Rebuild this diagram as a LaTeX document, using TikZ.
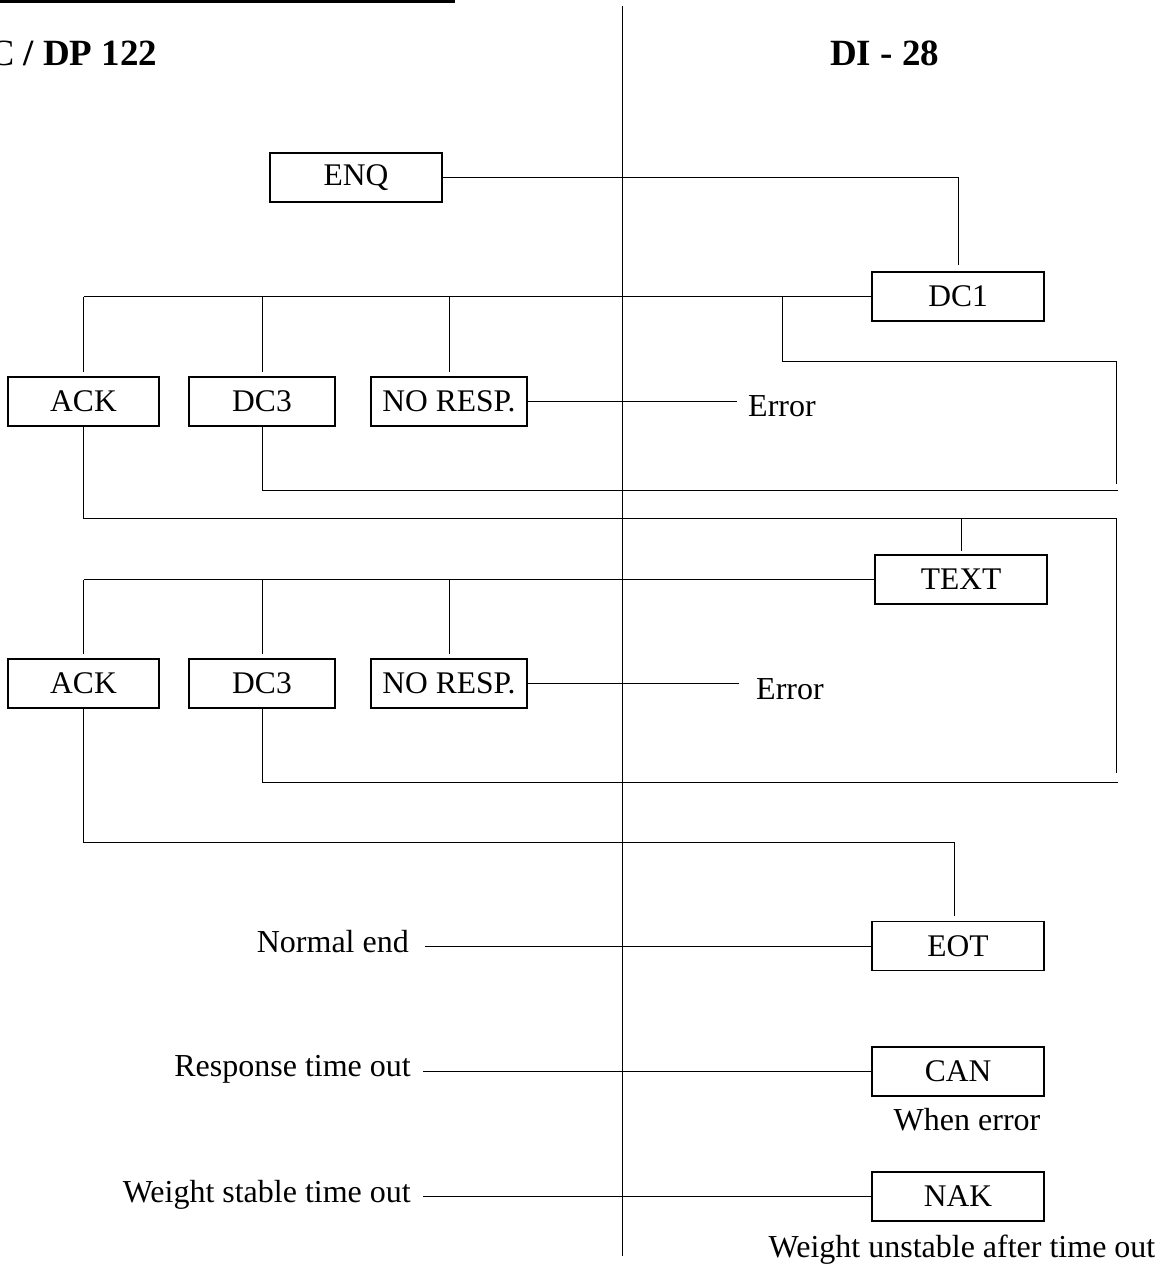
\documentclass[tikz,border=0pt]{standalone}
\usepackage{fontspec}
\setmainfont{Liberation Serif}
\newcommand\bxfont{\fontsize{31.5}{36}\selectfont}
\newcommand\lblfont{\fontsize{32}{37}\selectfont}
\newcommand\ttlfont{\fontsize{37}{42}\selectfont}
\begin{document}
\begin{tikzpicture}[x=1pt,y=-1pt,
  box/.style={draw, line width=1.7pt, minimum height=49pt, inner sep=0pt, font=\bxfont},
  conn/.style={line width=0.95pt},
  lbl/.style={inner sep=0pt, font=\lblfont}]
\useasboundingbox (0,0) rectangle (1163,1266);

% top underline fragment and titles
\draw[line width=3pt] (0,1.5) -- (455,1.5);
\node[anchor=base west, inner sep=0pt, font=\ttlfont] (tl) at (-10.5,65) {C\textbf{ / DP 122}};
\node[anchor=base west, inner sep=0pt, font=\ttlfont\bfseries] (tr) at (830,65) {DI - 28};

% centre line
\coordinate (ct) at (622,6);
\coordinate (cb) at (622,1256);
\draw[line width=1pt] (ct) -- (cb);

% boxes
\node[box, minimum width=172pt] (enq) at (356,177.5) {ENQ};
\node[box, minimum width=172pt] (dc1) at (958,296.5) {DC1};
\node[box, minimum width=151pt] (ack1) at (83.5,401.5) {ACK};
\node[box, minimum width=146pt] (dcA) at (262,401.5) {DC3};
\node[box, minimum width=156pt] (nr1) at (449,401.5) {NO RESP.};
\node[box, minimum width=172pt] (txt) at (961,579.5) {TEXT};
\node[box, minimum width=151pt] (ack2) at (83.5,683.5) {ACK};
\node[box, minimum width=146pt] (dcB) at (262,683.5) {DC3};
\node[box, minimum width=156pt] (nr2) at (449,683.5) {NO RESP.};
\node[box, minimum width=172pt] (eot) at (958,946) {EOT};
\node[box, minimum width=172pt] (can) at (958,1071.5) {CAN};
\node[box, minimum width=172pt] (nak) at (958,1196.5) {NAK};

% labels
\node[lbl, anchor=base west] (err1) at (748,416) {Error};
\node[lbl, anchor=base west] (err2) at (756,699) {Error};
\node[lbl, anchor=base east] (ne) at (409,952) {Normal end};
\node[lbl, anchor=base east] (rto) at (411,1076) {Response time out};
\node[lbl, anchor=base east] (wst) at (411,1202) {Weight stable time out};
\node[lbl, anchor=base] (we) at (967,1130) {When error};
\node[lbl, anchor=base] (wun) at (962,1257) {Weight unstable after time out};

% ENQ -> DC1
\draw[conn, shorten >=6pt] (enq.east) -| (dc1.north);

% DC1 bus
\draw[conn] (dc1.west) -- (dc1.west -| ack1.north);
\draw[conn, shorten >=4pt] (dc1.west -| ack1.north) -- (ack1.north);
\draw[conn, shorten >=4pt] (dc1.west -| dcA.north) -- (dcA.north);
\draw[conn, shorten >=4pt] (dc1.west -| nr1.north) -- (nr1.north);
\coordinate (j1) at (782,296.5);
\coordinate (j1b) at (782,361);
\coordinate (r1) at (1116,361);
\coordinate (r1b) at (1116,484);
\draw[conn] (j1) -- (j1b) -- (r1) -- (r1b);

% NO RESP -> Error
\draw[conn, shorten >=11pt] (nr1.east) -- (nr1.east -| err1.west);

% DC3 / ACK returns (first group)
\coordinate (rB) at (1118,490);
\draw[conn] (dcA.south) |- (rB);
\coordinate (rA) at (1116,518);
\coordinate (rAb) at (1116,773);
\draw[conn] (ack1.south) |- (rA) -- (rAb);
\draw[conn, shorten >=3pt] (txt.north |- rA) -- (txt.north);

% TEXT bus
\draw[conn] (txt.west) -- (txt.west -| ack2.north);
\draw[conn, shorten >=4pt] (txt.west -| ack2.north) -- (ack2.north);
\draw[conn, shorten >=4pt] (txt.west -| dcB.north) -- (dcB.north);
\draw[conn, shorten >=4pt] (txt.west -| nr2.north) -- (nr2.north);
\draw[conn, shorten >=17pt] (nr2.east) -- (nr2.east -| err2.west);

% DC3 / ACK returns (second group)
\coordinate (rC) at (1118,782);
\draw[conn] (dcB.south) |- (rC);
\coordinate (rD) at (954,842);
\draw[conn] (ack2.south) |- (rD);
\draw[conn, shorten >=5pt] (rD) -- (rD |- eot.north);

% bottom messages
\draw[conn, shorten >=16pt] (eot.west) -- (eot.west -| ne.east);
\draw[conn, shorten >=12pt] (can.west) -- (can.west -| rto.east);
\draw[conn, shorten >=12pt] (nak.west) -- (nak.west -| wst.east);
\end{tikzpicture}
\end{document}
